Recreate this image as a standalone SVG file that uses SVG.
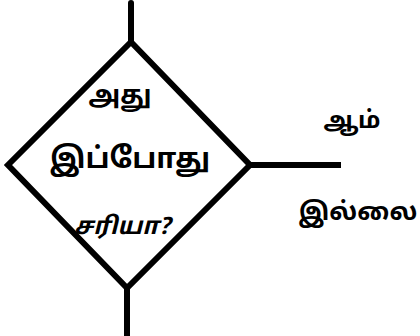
<svg xmlns="http://www.w3.org/2000/svg" width="420" height="336" viewBox="0 0 420 336">
<style>
.ln{stroke:#000;stroke-width:6;fill:none;stroke-linejoin:miter}
.t{font-family:"Noto Sans Tamil","Noto Sans","Lohit Tamil","Latha",sans-serif;fill:#000;text-anchor:middle;font-weight:bold}
</style>
<rect width="420" height="336" fill="#fff"/>
<g id="connectors">
<line class="ln" x1="131" y1="3" x2="131" y2="43" stroke-linecap="round"/>
<line class="ln" x1="250" y1="165" x2="341" y2="165"/>
<line class="ln" x1="127" y1="288" x2="127" y2="336"/>
</g>
<g id="decision">
<polygon class="ln" points="131,42 250,165 127,288 8,165"/>
<text class="t" x="120" y="104" font-size="26">அது</text>
<text class="t" x="130" y="168" font-size="29">இப்போது</text>
<text class="t" x="122" y="234" font-size="24" font-style="italic">சரியா?</text>
</g>
<g id="label-yes">
<text class="t" x="352" y="128" font-size="24">ஆம்</text>
</g>
<g id="label-no">
<text class="t" x="358" y="220" font-size="25">இல்லை</text>
</g>
</svg>
